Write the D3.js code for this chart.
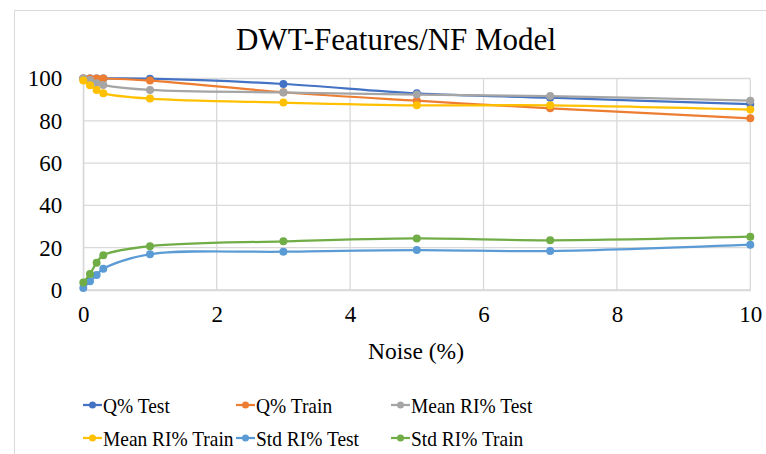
<!DOCTYPE html>
<html><head><meta charset="utf-8">
<script src="https://cdn.jsdelivr.net/npm/d3@7"></script>
<style>body{margin:0;background:#fff}svg{display:block}</style>
</head><body><svg id="c" width="766" height="454"></svg>
<script>
const noise = [0, 0.1, 0.2, 0.3, 1, 3, 5, 7, 10];
const qTest = [100, 100, 100, 100, 99.9, 97.4, 93.0, 90.9, 87.9];
const qTrain = [100, 100, 100, 100, 99.0, 93.5, 89.5, 85.9, 81.2];
const meanTest = [100, 99.3, 97.7, 96.9, 94.6, 93.4, 92.4, 91.7, 89.5];
const meanTrain = [99.0, 96.8, 94.6, 93.0, 90.5, 88.6, 87.3, 87.3, 85.3];
const stdTest = [1.0, 4.1, 7.1, 10.1, 16.9, 18.1, 18.9, 18.4, 21.4];
const stdTrain = [3.5, 7.6, 12.9, 16.4, 20.7, 23.0, 24.4, 23.5, 25.2];
const seriesNames = ["Q% Test", "Q% Train", "Mean RI% Test", "Mean RI% Train", "Std RI% Test", "Std RI% Train"];
const seriesColors = ["#4472C4", "#ED7D31", "#A5A5A5", "#FFC000", "#5B9BD5", "#70AD47"];
const xTicks = [0, 2, 4, 6, 8, 10];
const yTicks = [0, 20, 40, 60, 80, 100];
const title = "DWT-Features/NF Model";
const xTitle = "Noise (%)";

const FONT = '"Liberation Serif", "Times New Roman", Times, serif';

const series = [qTest, qTrain, meanTest, meanTrain, stdTest, stdTrain].map((v, i) => ({
  name: seriesNames[i], color: seriesColors[i], values: v.map((y, j) => ({x: noise[j], y}))
}));

const svg = d3.select("#c");
svg.append("rect").attr("x", 14.5).attr("y", 10.5).attr("width", 800).attr("height", 500)
  .attr("fill", "#fff").attr("stroke", "#d9d9d9").attr("stroke-width", 1);

const x = d3.scaleLinear().domain([0, 10]).range([83.3, 750.3]);
const y = d3.scaleLinear().domain([0, 100]).range([290, 78.5]);

svg.append("text").attr("x", 396).attr("y", 50).attr("text-anchor", "middle")
  .style("font-family", FONT).style("font-size", "31px").style("fill", "#000").text(title);

// grid
const g = svg.append("g");
g.selectAll("line.h").data(yTicks).join("line")
  .attr("x1", x(0)).attr("x2", x(10)).attr("y1", d => y(d)).attr("y2", d => y(d))
  .attr("stroke", "#d9d9d9").attr("stroke-width", 1.3);
g.selectAll("line.v").data(xTicks).join("line")
  .attr("x1", d => x(d)).attr("x2", d => x(d)).attr("y1", y(0)).attr("y2", y(100))
  .attr("stroke", "#d9d9d9").attr("stroke-width", 1.3);

// axes
const ya = svg.append("g").attr("transform", `translate(${x(0)},0)`)
  .call(d3.axisLeft(y).tickValues(yTicks).tickSize(0).tickPadding(21));
const xa = svg.append("g").attr("transform", `translate(0,${y(0)})`)
  .call(d3.axisBottom(x).tickValues(xTicks).tickSize(0).tickPadding(16));
[ya, xa].forEach(a => {
  a.attr("font-family", null).attr("font-size", null);
  a.select(".domain").attr("stroke", "#d9d9d9").attr("stroke-width", 1.3);
  a.selectAll("text").style("font-size", "23px").style("font-family", FONT).style("fill", "#000");
});

svg.append("text").attr("x", 416).attr("y", 359).attr("text-anchor", "middle")
  .style("font-family", FONT).style("font-size", "23.5px").style("fill", "#000").text(xTitle);

const line = d3.line().x(d => x(d.x)).y(d => y(d.y)).curve(d3.curveCatmullRom.alpha(0.5));
series.forEach(s => {
  svg.append("path").attr("d", line(s.values)).attr("fill", "none")
    .attr("stroke", s.color).attr("stroke-width", 2.25);
  svg.selectAll(null).data(s.values).join("circle")
    .attr("cx", d => x(d.x)).attr("cy", d => y(d.y)).attr("r", 4).attr("fill", s.color);
});

// legend
const legX = [83, 236, 391];
const legY = [405, 438];
series.forEach((s, i) => {
  const lx = legX[i % 3], ly = legY[Math.floor(i / 3)];
  const lg = svg.append("g");
  lg.append("line").attr("x1", lx).attr("x2", lx + 19).attr("y1", ly).attr("y2", ly)
    .attr("stroke", s.color).attr("stroke-width", 2.25);
  lg.append("circle").attr("cx", lx + 9.5).attr("cy", ly).attr("r", 3.5).attr("fill", s.color);
  lg.append("text").attr("transform", `translate(${lx + 20},${ly + 7.8}) scale(0.9,1)`)
    .style("font-family", FONT).style("font-size", "21.6px").style("fill", "#000").text(s.name);
});
</script></body></html>
